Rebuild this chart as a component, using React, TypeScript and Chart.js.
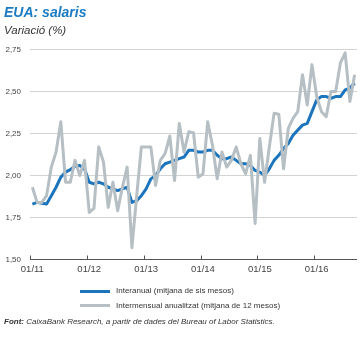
import React, { useEffect, useRef } from 'react';
import { Chart, registerables } from 'chart.js';

Chart.register(...registerables);

const months = [
  '01/11', '02/11', '03/11', '04/11', '05/11', '06/11', '07/11', '08/11', '09/11', '10/11', '11/11', '12/11',
  '01/12', '02/12', '03/12', '04/12', '05/12', '06/12', '07/12', '08/12', '09/12', '10/12', '11/12', '12/12',
  '01/13', '02/13', '03/13', '04/13', '05/13', '06/13', '07/13', '08/13', '09/13', '10/13', '11/13', '12/13',
  '01/14', '02/14', '03/14', '04/14', '05/14', '06/14', '07/14', '08/14', '09/14', '10/14', '11/14', '12/14',
  '01/15', '02/15', '03/15', '04/15', '05/15', '06/15', '07/15', '08/15', '09/15', '10/15', '11/15', '12/15',
  '01/16', '02/16', '03/16', '04/16', '05/16', '06/16', '07/16', '08/16', '09/16',
];

const interanual = [
  1.83, 1.84, 1.835, 1.83, 1.88, 1.93, 1.99, 2.02, 2.035, 2.055, 2.06, 2.04,
  1.96, 1.95, 1.96, 1.95, 1.93, 1.92, 1.91, 1.92, 1.93, 1.84, 1.85, 1.88,
  1.92, 1.98, 2.0, 2.04, 2.07, 2.08, 2.09, 2.1, 2.11, 2.15, 2.15, 2.14,
  2.14, 2.15, 2.15, 2.12, 2.1, 2.1, 2.11, 2.09, 2.07, 2.07, 2.06, 2.03,
  2.02, 2.0, 2.04, 2.09, 2.12, 2.16, 2.19, 2.24, 2.27, 2.3, 2.31, 2.38,
  2.45, 2.47, 2.47, 2.46, 2.47, 2.47, 2.51, 2.52, 2.55,
];

const intermensual = [
  1.93, 1.84, 1.84, 1.88, 2.05, 2.14, 2.32, 1.96, 1.96, 2.09, 2.0, 2.09,
  1.78, 1.805, 2.17, 2.08, 1.81, 1.96, 1.79, 1.93, 2.05, 1.57, 1.875, 2.17,
  2.17, 2.17, 1.94, 2.09, 2.13, 2.235, 1.97, 2.31, 2.14, 2.26, 2.255, 1.99,
  2.01, 2.32, 2.18, 1.98, 2.14, 2.05, 2.09, 2.17, 2.07, 2.01, 2.12, 1.715,
  2.22, 1.96, 2.17, 2.37, 2.365, 2.04, 2.28, 2.34, 2.38, 2.6, 2.42, 2.66,
  2.47, 2.38, 2.35, 2.5, 2.5, 2.67, 2.73, 2.44, 2.6,
];

const yTicks = [1.5, 1.75, 2.0, 2.25, 2.5, 2.75];

const seriesLabels = [
  'Interanual (mitjana de sis mesos)',
  'Intermensual anualitzat (mitjana de 12 mesos)',
];

const FONT = "'Liberation Sans', Arial, sans-serif";
const BLUE = '#1c75bc';
const GREY = '#b6bfc4';
const TITLE_BLUE = '#1b7cc4';

export default function App() {
  const ref = useRef<HTMLCanvasElement>(null);

  useEffect(() => {
    const canvas = ref.current;
    if (!canvas) return;

    const tickMarks = {
      id: 'tickMarks',
      afterDatasetsDraw(chart: any) {
        const xs = chart.scales.x;
        const bottom = chart.chartArea.bottom;
        const half = (xs.getPixelForValue(1) - xs.getPixelForValue(0)) / 2;
        const ctx = chart.ctx;
        ctx.save();
        ctx.strokeStyle = '#555555';
        ctx.lineWidth = 1;
        months.forEach((m, i) => {
          if (!m.startsWith('01/')) return;
          const px = Math.round(xs.getPixelForValue(i) - half) + 0.5;
          ctx.beginPath();
          ctx.moveTo(px, bottom - 4);
          ctx.lineTo(px, bottom);
          ctx.stroke();
        });
        ctx.restore();
      },
    };

    const chart = new Chart(canvas, {
      type: 'line',
      data: {
        labels: months,
        datasets: [
          {
            label: seriesLabels[0],
            data: interanual,
            borderColor: BLUE,
            backgroundColor: BLUE,
            borderWidth: 3,
            pointRadius: 0,
            tension: 0,
            borderJoinStyle: 'round',
            order: 1,
          },
          {
            label: seriesLabels[1],
            data: intermensual,
            borderColor: GREY,
            backgroundColor: GREY,
            borderWidth: 3,
            pointRadius: 0,
            tension: 0,
            borderJoinStyle: 'round',
            order: 0,
          },
        ],
      },
      options: {
        responsive: false,
        animation: false,
        layout: { padding: { left: 0, top: 49.5, right: 4, bottom: 58.5 } },
        plugins: {
          legend: { display: false },
          title: { display: false },
          tooltip: { enabled: false },
        },
        scales: {
          x: {
            type: 'category',
            offset: true,
            grid: { display: false, drawTicks: false },
            border: { display: false },
            ticks: {
              autoSkip: false,
              maxRotation: 0,
              minRotation: 0,
              padding: 4,
              color: '#444444',
              font: { family: FONT, size: 9.5 },
              callback: (_v: any, i: number) => (months[i].startsWith('01/') ? months[i] : ''),
            },
            afterFit: (s: any) => {
              s.height = 20;
            },
          },
          y: {
            min: 1.5,
            max: 2.75,
            afterBuildTicks: (s: any) => {
              s.ticks = yTicks.map((v) => ({ value: v }));
            },
            grid: {
              color: (ctx: any) => (ctx.tick && ctx.tick.value === 1.5 ? '#555555' : '#d3d3d3'),
              lineWidth: 1,
              drawTicks: false,
            },
            border: { display: false },
            ticks: {
              padding: 9,
              color: '#444444',
              font: { family: FONT, size: 8 },
              callback: (v: any) => Number(v).toFixed(2).replace('.', ','),
            },
            afterFit: (s: any) => {
              s.width = 30;
            },
          },
        },
      },
      plugins: [tickMarks],
    } as any);

    return () => chart.destroy();
  }, []);

  const textBase: React.CSSProperties = { position: 'absolute', fontFamily: FONT, whiteSpace: 'nowrap' };

  return (
    <div style={{ position: 'fixed', left: 0, top: 0, width: 361, height: 338, background: '#ffffff', overflow: 'hidden' }}>
      <canvas ref={ref} width={361} height={338} style={{ position: 'absolute', left: 0, top: 0, width: 361, height: 338 }} />
      <div style={{ ...textBase, left: 4, top: 5, fontSize: 14, lineHeight: '14px', fontWeight: 'bold', fontStyle: 'italic', color: TITLE_BLUE }}>
        EUA: salaris
      </div>
      <div style={{ ...textBase, left: 4, top: 25, fontSize: 11.5, lineHeight: '11.5px', fontStyle: 'italic', color: '#333333' }}>
        Variació (%)
      </div>
      {[BLUE, GREY].map((c, i) => (
        <div key={i} style={{ ...textBase, left: 80, top: 286 + i * 14.5, height: 10, display: 'flex', alignItems: 'center' }}>
          <span style={{ display: 'inline-block', width: 30, height: 3, background: c, marginRight: 6 }} />
          <span style={{ fontSize: 8, lineHeight: '10px', color: '#333333' }}>{seriesLabels[i]}</span>
        </div>
      ))}
      <div style={{ ...textBase, left: 4, top: 317, fontSize: 8, lineHeight: '10px', fontStyle: 'italic', color: '#333333' }}>
        <b>Font:</b> CaixaBank Research, a partir de dades del Bureau of Labor Statistics.
      </div>
    </div>
  );
}
